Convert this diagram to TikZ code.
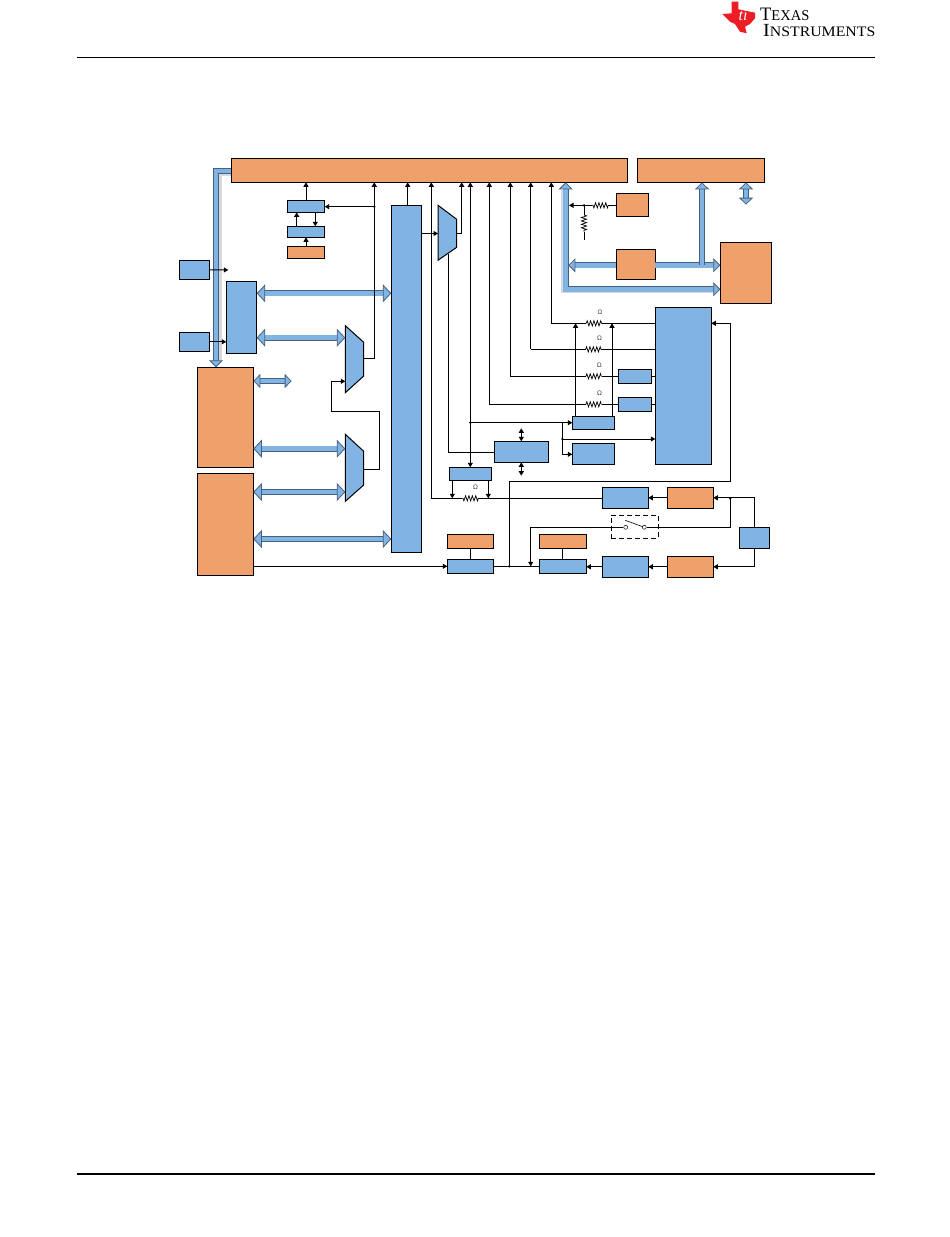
\documentclass[tikz,border=0pt]{standalone}
\usepackage{fontspec}
\setmainfont{Liberation Serif}
\newfontfamily\lsans{Liberation Sans}
\usetikzlibrary{arrows.meta,decorations.pathmorphing,calc}
\definecolor{bblue}{HTML}{81B3E3}
\definecolor{borange}{HTML}{F0A06A}
\definecolor{busedge}{HTML}{46617F}
\definecolor{tired}{HTML}{EE1C25}
\definecolor{busshade}{HTML}{D5D9DE}
\tikzset{
  x=1pt,y=-1pt,
  boxb/.style={draw=black,line width=1pt,fill=bblue,inner sep=0pt,outer sep=0pt,anchor=north west},
  boxo/.style={draw=black,line width=1pt,fill=borange,inner sep=0pt,outer sep=0pt,anchor=north west},
  muxs/.style={draw=black,line width=1pt,fill=bblue,line join=miter},
  port/.style={inner sep=0pt,outer sep=0pt},
  wire/.style={draw=black,line width=1pt},
  arr/.style={wire,-{Triangle[length=4.5pt,width=5pt]}},
  darr/.style={wire,{Triangle[length=4.5pt,width=5pt]}-{Triangle[length=4.5pt,width=5pt]}},
  res/.style={draw=black,line width=.7pt,decorate,decoration={zigzag,segment length=3.4pt,amplitude=2.6pt}},
  jdot/.style={circle,fill=black,inner sep=0pt,minimum size=2.6pt},
  omg/.style={font=\lsans\fontsize{6.5}{7}\selectfont,inner sep=0pt,text=black!75},
  bus/.style={line width=.8pt,draw=busedge,double=bblue,double distance=4.6pt,line join=miter},
  tipL/.tip={Triangle[length=8.5pt,width=18pt,fill=bblue,line width=.8pt]},
  tipS/.tip={Triangle[length=7pt,width=14pt,fill=bblue,line width=.8pt]},
}
\newcommand{\bx}[6]{%
  \pgfmathsetmacro{\bw}{#5-#3}\pgfmathsetmacro{\bh}{#6-#4}%
  \node[#2,minimum width=\bw pt,minimum height=\bh pt] (#1) at (#3,#4) {};}
\newcommand{\mux}[7]{% name x1 x2 ya yb yc yd
  \draw[muxs] (#2,#4) -- (#3,#5) -- (#3,#6) -- (#2,#7) -- cycle;
  \pgfmathsetmacro{\mw}{#3-#2}\pgfmathsetmacro{\mh}{#7-#4}
  \node[port,anchor=north west,minimum width=\mw pt,minimum height=\mh pt] (#1) at (#2,#4) {};}
\begin{document}
\begin{tikzpicture}
\useasboundingbox (0,0) rectangle (950,1237);
\fill[white] (0,0) rectangle (950,1237);

% header / footer
\coordinate (hl) at (77,57.5); \coordinate (hr) at (875,57.5);
\coordinate (fl) at (77,1174); \coordinate (fr) at (875,1174);
\draw[line width=1.5pt] (hl) -- (hr);
\draw[line width=1.5pt] (fl) -- (fr);
% logo
\fill[tired] (731.7,1.7) -- (738.3,1.7) -- (738.3,9.3) -- (755,12.7) -- (755,18.3) -- (750,24) -- (745,26.7) -- (746.7,33.3) -- (740,31.7) -- (735,24) -- (730,21.7) -- (722.3,14) -- (731.7,13.3) -- cycle;
\node[inner sep=0pt,text=white,font=\itshape\fontsize{16}{16}\selectfont] (tilogo) at (743,15) {ti};
\node[anchor=south west,inner sep=0pt,align=left,font=\fontsize{19}{16}\selectfont] (logotxt) at (760,37.2)
  {\scalebox{0.97}[1]{T\fontsize{15}{15}\selectfont EXAS}\\[0pt]\hspace*{3pt}\scalebox{1.09}[1]{\fontsize{18.5}{19}\selectfont I\fontsize{14.5}{15}\selectfont NSTRUMENTS}};

% boxes
\bx{main}{boxo}{231.3}{158.3}{627.3}{182.3}
\bx{maintwo}{boxo}{637.3}{158.3}{764.3}{182.3}
\bx{A}{boxb}{287.3}{200.3}{324.7}{212.3}
\bx{B}{boxb}{287.3}{226.3}{324.7}{237.3}
\bx{C}{boxo}{287.3}{246.3}{324.7}{258.3}
\bx{SA}{boxb}{179.3}{260.3}{209.3}{279.3}
\bx{SB}{boxb}{179.3}{332.3}{209.3}{351.3}
\bx{D}{boxb}{226.3}{281.3}{256.7}{353.3}
\bx{E}{boxb}{391.3}{205.3}{421.7}{552.3}
\bx{F}{boxo}{197.3}{367.3}{253.3}{467.3}
\bx{G}{boxo}{197.3}{473.3}{253.3}{575.3}
\bx{H}{boxo}{616.3}{193.3}{648.3}{216.3}
\bx{I}{boxo}{616.3}{249.3}{655.3}{279.3}
\bx{J}{boxo}{720.3}{242.3}{771.3}{303.3}
\bx{K}{boxb}{655.3}{307.3}{711.3}{464.3}
\bx{L}{boxb}{618.3}{369.3}{651.3}{383.3}
\bx{M}{boxb}{618.3}{397.3}{651.3}{411.3}
\bx{N}{boxb}{572.3}{416.3}{614.3}{429.3}
\bx{O}{boxb}{572.3}{443.3}{614.3}{464.3}
\bx{P}{boxb}{494.3}{441.3}{548.3}{462.3}
\bx{Q}{boxb}{449.3}{467.3}{491.3}{480.3}
\bx{R}{boxb}{602.3}{487.3}{648.3}{508.3}
\bx{S}{boxo}{667.3}{487.3}{713.3}{508.3}
\bx{T}{boxb}{602.3}{556.3}{648.3}{577.3}
\bx{U}{boxo}{667.3}{556.3}{713.3}{577.3}
\bx{V}{boxb}{739.3}{527.3}{769.3}{548.3}
\bx{W}{boxo}{447.3}{534.3}{493.3}{548.3}
\bx{X}{boxb}{447.3}{559.3}{493.3}{573.3}
\bx{Y}{boxo}{539.3}{534.3}{586.3}{548.3}
\bx{Z}{boxb}{539.3}{559.3}{586.3}{573.3}
\mux{muxA}{438}{456.7}{205.3}{219.3}{247.3}{260.3}
\mux{muxB}{345.3}{363.7}{325.7}{342.3}{376}{392.7}
\mux{muxC}{345.3}{363.7}{434.3}{451.3}{485}{501.3}
\node[draw=black,line width=1pt,dash pattern=on 5pt off 3pt,inner sep=0pt,outer sep=0pt,anchor=north west,minimum width=47pt,minimum height=23pt] (sw) at (611.3,515.3) {};

% rails
\coordinate (r374) at (374.3,206.7);
\coordinate (r431) at (431.3,498.3);
\coordinate (r449) at (448.7,452.3);
\coordinate (r449t) at (448.7,254);
\coordinate (r461) at (461.7,233.3);
\coordinate (r470) at (470.3,422.7);
\coordinate (r489) at (489.3,404.3);
\coordinate (r510) at (510.3,376.3);
\coordinate (r531) at (530.7,349.3);
\coordinate (r551) at (551.3,323.3);
\coordinate (r562) at (562.3,439);
\coordinate (r576) at (575.6,323.3);
\coordinate (r612) at (612,323.3);
\coordinate (r509) at (509.3,566.3);
\coordinate (r730) at (730.3,481.3);
\coordinate (jv) at (730.3,498.3);

% light bus shadows
\draw[busshade,line width=8pt,line join=miter] (main.west |- 0,171.5) -| (217.5,360);
\draw[busshade,line width=7.6pt,line join=miter] (565.2,190) |- (715,289.6);

% fat buses
\draw[bus,-{tipS}] (main.west |- 0,171) -| (F.north -| 216,0);
\draw[bus,{tipL}-{tipL}] (D.east |- 0,293.3) -- (E.west |- 0,293.3);
\draw[bus,{tipL}-{tipL}] (D.east |- 0,337.7) -- (muxB.west |- 0,337.7);
\coordinate (fendA) at (291.7,381);
\draw[bus,{tipS}-{tipS}] (F.east |- fendA) -- (fendA);
\draw[bus,{tipL}-{tipL}] (F.east |- 0,448.7) -- (muxC.west |- 0,448.7);
\draw[bus,{tipL}-{tipL}] (G.east |- 0,492) -- (muxC.west |- 0,492);
\draw[bus,{tipL}-{tipL}] (G.east |- 0,539) -- (E.west |- 0,539);
\draw[bus,{tipS}-{tipS}] (main.south -| 565.7,0) |- (J.west |- 0,289.3);
\draw[bus,-{tipS}] (I.west |- 0,265.3) -- (568.3,265.3);
\draw[bus,-{tipS}] (I.east |- 0,265.3) -- (J.west |- 0,265.3);
\draw[bus,-{tipS}] (702,265.3) -- (maintwo.south -| 702,0);
\coordinate (fendB) at (746,204.7);
\draw[bus,{tipS}-{tipS}] (maintwo.south -| fendB) -- (fendB);

% thin arrows: left part
\draw[arr] (A.north) -- (A.north |- main.south);
\draw[arr] (muxB.east |- 0,358.3) -| (r374 |- main.south);
\draw[arr] (r374) -- (A.east |- r374);
\draw[arr] (B.north -| 296.7,0) -- (A.south -| 296.7,0);
\draw[arr] (A.south -| 315.3,0) -- (B.north -| 315.3,0);
\draw[arr] (C.north) -- (B.south);
\coordinate (sae) at (228.3,270);
\draw[arr] (SA.east) -- (sae);
\draw[arr] (SB.east) -- (D.west |- SB.east);
\draw[arr] (E.north -| 407.7,0) -- (main.south -| 407.7,0);
\draw[arr] (E.east |- 0,233.5) -- (muxA.west |- 0,233.5);
\draw[arr] (muxA.east |- r461) -| (r461 |- main.south);
\draw[wire] (muxC.east |- 0,469) -- (379.3,469) -- (379.3,411.3) -- (331.7,411.3) -- (331.7,381.3);
\draw[arr] (331.7,381.3) -- (muxB.west |- 0,381.3);
% long rails to the main bar
\coordinate (ra) at (478.3,498.3); \coordinate (rb) at (462,498.3);
\draw[wire] (R.west |- r431) -- (ra);
\draw[res] (ra) -- (rb);
\draw[arr] (rb) -- (r431) -- (r431 |- main.south);
\draw[arr] (Q.south -| 452.3,0) -- (452.3,498.3);
\draw[arr] (Q.south -| 488.3,0) -- (488.3,498.3);
\draw[wire] (r449t) -- (r449) -- (P.west |- r449);
\draw[darr] (r470 |- main.south) -- (Q.north -| r470);
\draw[arr] (r470) -- (N.west |- r470);
\draw[wire] (r562 |- r470) -- (r562);
\draw[arr] (r562) |- (O.west |- 0,454.3);
\draw[arr] (r562) -- (K.west |- r562);
\node[jdot] (d470) at (r470) {};
\node[jdot] (d562) at (r562) {};
\node[jdot] (d374) at (r374) {};
\draw[arr] (r489) -- (r489 |- main.south);
\draw[arr] (r510) -- (r510 |- main.south);
\draw[arr] (r531) -- (r531 |- main.south);
\draw[arr] (r551) -- (r551 |- main.south);
% resistor rows
\coordinate (ra1) at (586.3,323.3); \coordinate (rb1) at (602,323.3);
\coordinate (ra2) at (585.7,349.3); \coordinate (rb2) at (601.4,349.3);
\coordinate (ra3) at (586,376.3);   \coordinate (rb3) at (601.7,376.3);
\coordinate (ra4) at (586,404.3);   \coordinate (rb4) at (601.7,404.3);
\draw[wire] (r551) -- (ra1); \draw[res] (ra1) -- (rb1); \draw[wire] (rb1) -- (K.west |- r551);
\draw[wire] (r531) -- (ra2); \draw[res] (ra2) -- (rb2); \draw[wire] (rb2) -- (K.west |- r531);
\draw[wire] (r510) -- (ra3); \draw[res] (ra3) -- (rb3); \draw[wire] (rb3) -- (L.west |- r510);
\draw[wire] (r489) -- (ra4); \draw[res] (ra4) -- (rb4); \draw[wire] (rb4) -- (M.west |- r489);
\draw[wire] (L.east) -- (K.west |- L.east);
\draw[wire] (M.east) -- (K.west |- M.east);
\node[omg] (o1) at (600,312.7) {Ω};
\node[omg] (o2) at (599.6,338.3) {Ω};
\node[omg] (o3) at (599.4,365.6) {Ω};
\node[omg] (o4) at (599.6,393.6) {Ω};
\node[omg] (o5) at (475.6,487.5) {Ω};
\draw[arr] (N.north -| r576) -- (r576);
\draw[arr] (N.north -| r612) -- (r612);
% H resistors
\coordinate (ha) at (608.3,205.3); \coordinate (hb) at (591.7,205.3);
\coordinate (hj) at (584,205.3); \coordinate (hv) at (584,240);
\coordinate (hc) at (584,215); \coordinate (hd) at (584,231.7);
\draw[wire] (H.west |- ha) -- (ha); \draw[res] (ha) -- (hb);
\draw[arr] (hb) -- (569,205.3);
\draw[wire] (hj) -- (hc); \draw[res] (hc) -- (hd); \draw[wire] (hd) -- (hv);
\node[jdot] (dh) at (hj) {};
% P connectors
\coordinate (pt) at (521.3,428.3); \coordinate (pb) at (521.3,475.7);
\draw[darr] (pt) -- (P.north -| pt);
\draw[darr] (P.south -| pb) -- (pb);
% bottom
\draw[arr] (G.east |- 0,566.3) -- (X.west |- 0,566.3);
\draw[wire] (X.east |- 0,566.3) -- (Z.west |- 0,566.3);
\draw[wire] (W.south) -- (X.north);
\draw[wire] (Y.south) -- (Y.south |- Z.north);
\node[jdot] (d509) at (r509) {};
\draw[arr] (r509) |- (r730) -- (r730 |- r551) -- (K.east |- r551);
\draw[arr] (S.west) -- (R.east);
\draw[arr] (U.west) -- (T.east);
\draw[arr] (T.west) -- (Z.east |- T.west);
\draw[arr] (V.north) |- (S.east);
\draw[arr] (V.south) |- (U.east);
\node[jdot] (djv) at (jv) {};
% switch
\node[circle,draw=black,line width=.5pt,fill=white,inner sep=0pt,minimum size=4pt] (swa) at (625.7,527.3) {};
\node[circle,draw=black,line width=.5pt,fill=white,inner sep=0pt,minimum size=4pt] (swb) at (644.3,527.3) {};
\coordinate (blade) at (625.3,520.3);
\draw[line width=.6pt] (blade) -- (swb);
\draw[wire] (jv) |- (swb);
\draw[arr] (swa) -| (530.7,566.3);
\end{tikzpicture}
\end{document}
